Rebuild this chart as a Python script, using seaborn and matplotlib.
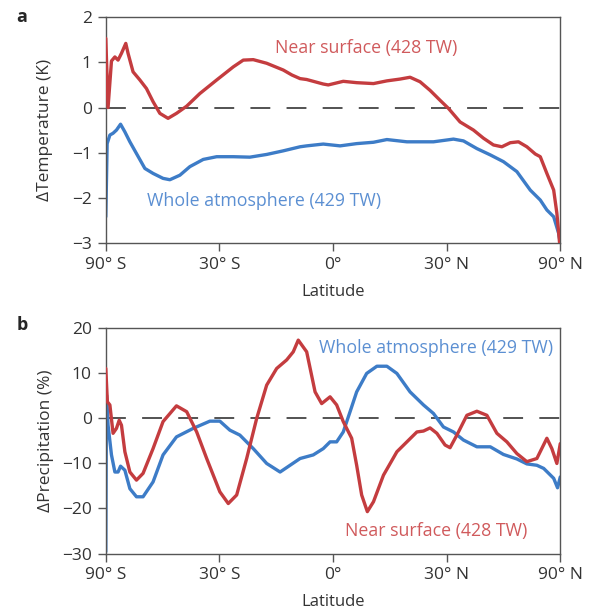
import numpy as np
import pandas as pd
import seaborn as sns
import matplotlib
matplotlib.use("Agg")
import matplotlib.pyplot as plt

# x values are sin(latitude)
# panel a: temperature change (K)
a_surf_x = [-1.0, -0.990, -0.975, -0.960, -0.946, -0.931, -0.912, -0.902, -0.880, -0.850,
            -0.821, -0.792, -0.762, -0.726, -0.689, -0.644, -0.586, -0.512, -0.439, -0.395,
            -0.351, -0.292, -0.219, -0.181, -0.145, -0.116, -0.043, -0.021, 0.045, 0.104,
            0.178, 0.237, 0.295, 0.339, 0.383, 0.427, 0.471, 0.508, 0.559, 0.618,
            0.662, 0.706, 0.743, 0.780, 0.816, 0.853, 0.890, 0.912, 0.941, 0.971,
            0.985, 0.997]
a_surf_y = [1.53, 0.0, 1.03, 1.12, 1.05, 1.2, 1.42, 1.2, 0.79, 0.61,
            0.42, 0.13, -0.13, -0.24, -0.13, 0.03, 0.31, 0.61, 0.9, 1.05,
            1.06, 0.98, 0.83, 0.72, 0.64, 0.62, 0.52, 0.5, 0.58, 0.55,
            0.53, 0.59, 0.63, 0.67, 0.57, 0.38, 0.16, -0.02, -0.32, -0.5,
            -0.68, -0.83, -0.87, -0.78, -0.76, -0.87, -1.03, -1.09, -1.46, -1.83,
            -2.34, -3.0]

a_atm_x = [-1.0, -0.994, -0.982, -0.968, -0.953, -0.935, -0.916, -0.894, -0.865, -0.828,
           -0.792, -0.748, -0.718, -0.674, -0.630, -0.571, -0.512, -0.439, -0.366, -0.292,
           -0.219, -0.145, -0.116, -0.043, 0.031, 0.104, 0.178, 0.237, 0.325, 0.442,
           0.530, 0.574, 0.633, 0.692, 0.750, 0.809, 0.868, 0.912, 0.941, 0.971,
           0.993, 1.0]
a_atm_y = [-2.42, -0.8, -0.61, -0.57, -0.5, -0.37, -0.54, -0.76, -1.02, -1.35,
           -1.46, -1.57, -1.6, -1.5, -1.31, -1.15, -1.09, -1.09, -1.1, -1.04,
           -0.96, -0.87, -0.85, -0.81, -0.85, -0.8, -0.77, -0.71, -0.76, -0.76,
           -0.7, -0.74, -0.91, -1.05, -1.2, -1.42, -1.83, -2.05, -2.27, -2.42,
           -2.79, -3.0]

# panel b: precipitation change (%)
b_surf_x = [-1.0, -0.993, -0.982, -0.968, -0.953, -0.941, -0.931, -0.916, -0.894, -0.865,
            -0.836, -0.792, -0.748, -0.689, -0.644, -0.600, -0.556, -0.498, -0.461, -0.424,
            -0.380, -0.336, -0.292, -0.248, -0.204, -0.175, -0.153, -0.116, -0.079, -0.050,
            -0.013, 0.016, 0.045, 0.082, 0.104, 0.126, 0.151, 0.178, 0.222, 0.281,
            0.325, 0.369, 0.398, 0.427, 0.457, 0.493, 0.515, 0.545, 0.589, 0.633,
            0.677, 0.721, 0.765, 0.809, 0.853, 0.897, 0.941, 0.963, 0.985, 1.0]
b_surf_y = [11.1, 3.7, 3.0, -3.3, -2.2, -0.4, -1.5, -7.4, -11.9, -13.7,
            -12.2, -6.7, -0.7, 2.8, 1.5, -3.0, -8.9, -16.3, -18.9, -17.0,
            -8.9, 0.0, 7.4, 11.1, 13.0, 14.8, 17.4, 14.8, 5.9, 3.3,
            4.8, 3.0, -0.7, -4.4, -10.4, -17.0, -20.7, -18.5, -12.6, -7.4,
            -5.2, -3.0, -2.8, -2.1, -3.3, -5.9, -6.5, -3.7, 0.7, 1.6,
            0.7, -3.3, -5.2, -7.8, -9.6, -8.9, -4.4, -6.7, -10.0, -5.6]

b_atm_x = [-1.0, -0.997, -0.990, -0.975, -0.960, -0.946, -0.935, -0.916, -0.894, -0.865,
           -0.836, -0.792, -0.748, -0.689, -0.615, -0.542, -0.498, -0.454, -0.410, -0.351,
           -0.292, -0.233, -0.189, -0.145, -0.087, -0.043, -0.013, 0.016, 0.045, 0.075,
           0.104, 0.148, 0.193, 0.237, 0.281, 0.339, 0.398, 0.442, 0.486, 0.530,
           0.574, 0.633, 0.692, 0.750, 0.809, 0.853, 0.897, 0.927, 0.971, 0.988, 1.0]
b_atm_y = [-29.6, 5.2, -1.5, -8.1, -11.9, -11.9, -10.6, -11.5, -15.6, -17.4,
           -17.4, -14.1, -8.1, -4.1, -2.2, -0.6, -0.6, -2.6, -3.7, -6.7,
           -10.0, -11.9, -10.4, -8.9, -8.1, -6.7, -5.2, -5.2, -3.0, 1.5,
           5.9, 10.0, 11.6, 11.6, 10.0, 5.9, 3.0, 1.1, -1.9, -3.0,
           -4.8, -6.3, -6.3, -8.0, -9.0, -10.1, -10.4, -11.1, -13.3, -15.4, -13.0]

xticks = [-1, -0.5, 0, 0.5, 1]
xticklabels = ["90° S", "30° S", "0°", "30° N", "90° N"]

RED = "#c43c3f"
BLUE = "#3d7cc7"
RED_TXT = "#d05a5c"
BLUE_TXT = "#5b8fd2"

sns.set_style("ticks")
plt.rcParams["font.family"] = ["Open Sans", "DejaVu Sans"]
plt.rcParams["axes.edgecolor"] = "#555555"
plt.rcParams["xtick.color"] = "#555555"
plt.rcParams["ytick.color"] = "#555555"
plt.rcParams["xtick.labelcolor"] = "#333333"
plt.rcParams["ytick.labelcolor"] = "#333333"

fig = plt.figure(figsize=(5.91, 6.15), dpi=100)
ax1 = fig.add_axes([0.179, 0.605, 0.769, 0.367])
ax2 = fig.add_axes([0.179, 0.100, 0.769, 0.366])


def draw(ax, sx, sy, ax_x, ax_y):
    ax.axhline(0, color="#444444", lw=1.3, dashes=(11, 9), zorder=1)
    sns.lineplot(x=sx, y=sy, ax=ax, color=RED, lw=2.4, sort=False,
                 solid_joinstyle="round", zorder=3)
    sns.lineplot(x=ax_x, y=ax_y, ax=ax, color=BLUE, lw=2.4, sort=False,
                 solid_joinstyle="round", zorder=2)
    ax.set_xlim(-1, 1)
    ax.set_xticks(xticks)
    ax.set_xticklabels(xticklabels)
    ax.set_xlabel("Latitude", fontsize=12, color="#333333", labelpad=8)
    ax.tick_params(labelsize=12.5, length=6, width=1, pad=4)
    for sp in ax.spines.values():
        sp.set_visible(True)
        sp.set_linewidth(1)


draw(ax1, a_surf_x, a_surf_y, a_atm_x, a_atm_y)
ax1.set_ylim(-3, 2)
ax1.set_yticks([-3, -2, -1, 0, 1, 2])
ax1.set_yticklabels(["\u22123", "\u22122", "\u22121", "0", "1", "2"])
ax1.set_ylabel("\u0394Temperature (K)", fontsize=12.5, color="#333333", labelpad=14)
ax1.text(-0.82, -2.07, "Whole atmosphere (429 TW)", color=BLUE_TXT, fontsize=12.8,
         ha="left", va="center")
ax1.text(-0.256, 1.31, "Near surface (428 TW)", color=RED_TXT, fontsize=12.8,
         ha="left", va="center")

draw(ax2, b_surf_x, b_surf_y, b_atm_x, b_atm_y)
ax2.set_ylim(-30, 20)
ax2.set_yticks([-30, -20, -10, 0, 10, 20])
ax2.set_yticklabels(["\u221230", "\u221220", "\u221210", "0", "10", "20"])
ax2.set_ylabel("\u0394Precipitation (%)", fontsize=12.5, color="#333333", labelpad=6)
ax2.text(0.97, 15.6, "Whole atmosphere (429 TW)", color=BLUE_TXT, fontsize=12.8,
         ha="right", va="center")
ax2.text(0.053, -25.0, "Near surface (428 TW)", color=RED_TXT, fontsize=12.8,
         ha="left", va="center")

fig.text(0.028, 0.972, "a", fontsize=13, fontweight="bold", va="center")
fig.text(0.028, 0.472, "b", fontsize=13, fontweight="bold", va="center")

fig.savefig("out.png", dpi=100)
